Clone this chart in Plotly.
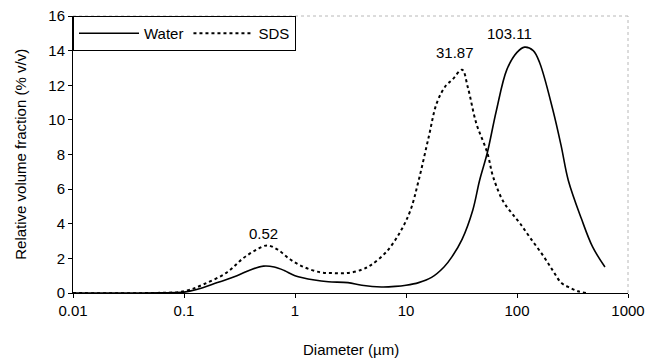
import math
import plotly.graph_objects as go

# Data
water_d = [0.01, 0.03, 0.06, 0.1, 0.13, 0.2, 0.3, 0.4, 0.52, 0.65, 0.8, 1.0, 1.5, 2.0, 3.0,
           4.0, 6.0, 8.0, 10, 13, 17, 22, 26, 32, 40, 46, 54, 65, 81, 100, 117, 140, 160,
           210, 250, 290, 380, 480, 620]
water_v = [0, 0, 0.01, 0.05, 0.2, 0.6, 1.0, 1.35, 1.55, 1.5, 1.3, 1.0, 0.75, 0.65, 0.6,
           0.45, 0.35, 0.38, 0.45, 0.6, 0.9, 1.5, 2.1, 3.1, 4.8, 6.5, 8.1, 10.5, 12.9, 13.9,
           14.2, 14.0, 13.3, 10.6, 8.5, 6.5, 4.3, 2.66, 1.5]

sds_d = [0.01, 0.05, 0.1, 0.15, 0.245, 0.34, 0.45, 0.56, 0.7, 0.9, 1.2, 1.68, 2.2, 2.95,
         4.0, 4.8, 6.7, 9.0, 11, 13, 16, 19, 23, 26, 32, 36, 43, 54, 61, 75, 90, 107, 131,
         170, 210, 250, 300, 355, 420]
sds_v = [0, 0, 0.1, 0.5, 1.2, 2.0, 2.5, 2.75, 2.5, 1.95, 1.5, 1.2, 1.15, 1.15,
         1.35, 1.6, 2.4, 3.6, 4.8, 6.5, 9.0, 11.0, 12.0, 12.3, 12.9, 11.9, 9.8, 8.1, 6.7,
         5.3, 4.6, 4.0, 3.2, 2.2, 1.3, 0.6, 0.3, 0.1, 0]

peak_labels = ["0.52", "31.87", "103.11"]
peak_x = [0.52, 27.5, 86]
peak_y = [3.45, 13.9, 15.0]

x_tickvals = [0.01, 0.1, 1, 10, 100, 1000]
x_ticktext = ["0.01", "0.1", "1", "10", "100", "1000"]
y_tickvals = [0, 2, 4, 6, 8, 10, 12, 14, 16]

FONT = "Arial, Liberation Sans, sans-serif"
FS = 15

fig = go.Figure()
fig.add_trace(go.Scatter(x=water_d, y=water_v, mode="lines", name="Water",
                         line=dict(color="black", width=1.6), line_shape="spline"))
fig.add_trace(go.Scatter(x=sds_d, y=sds_v, mode="lines", name="SDS",
                         line=dict(color="black", width=2, dash="dot"), line_shape="spline"))

for t, x, y in zip(peak_labels, peak_x, peak_y):
    fig.add_annotation(x=math.log10(x), y=y, text=t, showarrow=False,
                       font=dict(size=FS, color="black", family=FONT))

# axis titles
fig.add_annotation(xref="paper", yref="paper", x=0.5, y=-0.205, yanchor="middle",
                   text="Diameter (µm)", showarrow=False, font=dict(size=FS, family=FONT))
fig.add_annotation(xref="paper", yref="paper", x=-0.095, y=0.5, xanchor="center",
                   text="Relative volume fraction (% v/v)", textangle=-90,
                   showarrow=False, font=dict(size=FS, family=FONT))

# faint top/right frame
fig.add_shape(type="line", xref="paper", yref="paper", x0=0, x1=1, y0=1, y1=1,
              line=dict(color="#b8b8b8", width=1, dash="dot"))
fig.add_shape(type="line", xref="paper", yref="paper", x0=1, x1=1, y0=0, y1=1,
              line=dict(color="#b8b8b8", width=1, dash="dot"))

fig.update_layout(
    width=649, height=360,
    margin=dict(l=73, r=21, t=16, b=67, autoexpand=False),
    paper_bgcolor="white", plot_bgcolor="white",
    font=dict(family=FONT, size=FS, color="black"),
    showlegend=True,
    legend=dict(x=0, y=1, xanchor="left", yanchor="top", orientation="h",
                bgcolor="white", bordercolor="black", borderwidth=1,
                font=dict(size=FS), itemwidth=60, tracegroupgap=0),
    xaxis=dict(type="log", range=[-2, 3], tickvals=x_tickvals, ticktext=x_ticktext,
               showgrid=False, zeroline=False, showline=True, linecolor="black",
               linewidth=1, ticks="outside", ticklen=4, tickcolor="black",
               automargin=False, tickfont=dict(size=FS)),
    yaxis=dict(range=[0, 16], tickvals=y_tickvals, showgrid=False, zeroline=False,
               showline=True, linecolor="black", linewidth=1, ticks="outside",
               ticklen=4, tickcolor="black", automargin=False,
               tickfont=dict(size=FS)),
)

fig.write_html("out.html", config={"displayModeBar": False},
               post_script="document.body.style.margin='0';document.body.style.overflow='hidden';")
